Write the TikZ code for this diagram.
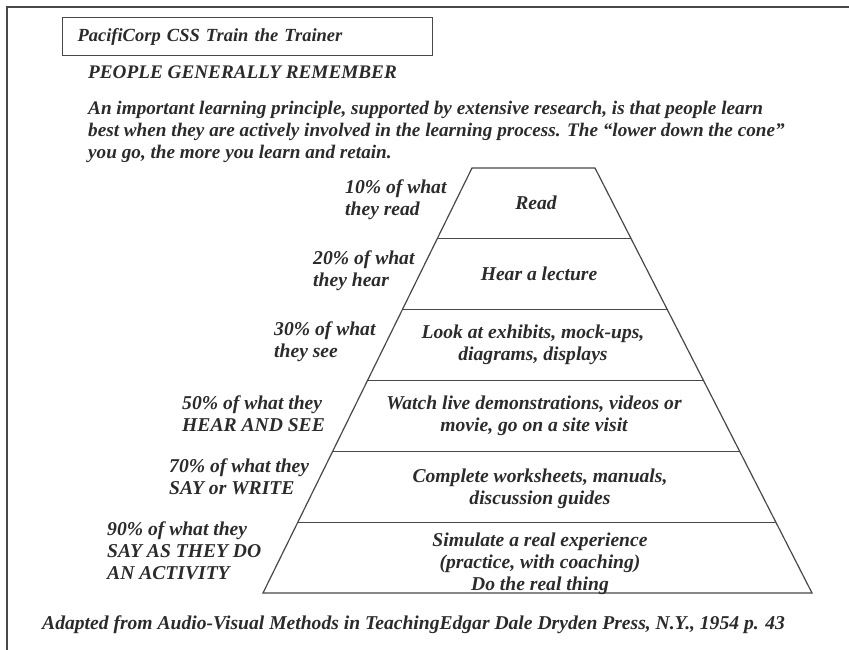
\documentclass[tikz,border=0pt]{standalone}
\usepackage{fontspec}
\setmainfont{Liberation Serif}
\usetikzlibrary{positioning,calc}
\definecolor{ink}{HTML}{2B2B2B}
\definecolor{rule}{HTML}{484848}

\begin{document}
\begin{tikzpicture}[
    x=1pt, y=-1pt,
    every node/.style={font=\bfseries\itshape\fontsize{19.6}{22}\selectfont, text=ink, inner sep=0pt},
    edge/.style={draw=rule, line width=1.2pt},
    titlebox/.style={draw=rule, line width=1pt, text width=340pt, inner xsep=15pt,
                     minimum height=38pt, align=left,
                     font=\bfseries\itshape\fontsize{18.5}{21}\selectfont},
    lbl/.style={anchor=west, align=left},
    rowtxt/.style={align=center},
  ]
  \useasboundingbox (0,0) rectangle (849,650);

  % page frame
  \draw[edge] (849,7) -- (7,7) -- (7,650);

  % header
  \node[titlebox, anchor=north west] (title) at (62,17) {PacifiCorp CSS Train the Trainer};
  \node[anchor=west, font=\bfseries\itshape\fontsize{19.2}{22}\selectfont] (head) at (88,72)
    {PEOPLE GENERALLY REMEMBER};
  \node[anchor=west, align=left, font=\bfseries\itshape\fontsize{19.2}{22}\selectfont] (intro) at (88,132)
    {An important learning principle, supported by extensive research, is that people learn\\
     best when they are actively involved in the learning process. The “lower down the cone”\\
     you go, the more you learn and retain.};

  % the cone
  \coordinate (tl) at (472,168);
  \coordinate (tr) at (595,168);
  \coordinate (bl) at (263,593);
  \coordinate (br) at (812,593);
  \draw[edge] (tl) -- (tr) -- (br) -- (bl) -- cycle;
  \foreach \k in {1,...,5}
    \draw[edge] ($(tl)!\k/6!(bl)$) -- ($(tr)!\k/6!(br)$);

  % what is done at each level
  \node[rowtxt] (read)  at (536,203) {Read};
  \node[rowtxt] (hear)  at (539,274) {Hear a lecture};
  \node[rowtxt] (see)   at (533,345) {Look at exhibits, mock-ups,\\diagrams, displays};
  \node[rowtxt] (watch) at (534,416) {Watch live demonstrations, videos or\\movie, go on a site visit};
  \node[rowtxt] (say)   at (540,489) {Complete worksheets, manuals,\\discussion guides};
  \node[rowtxt] (do)    at (540,564) {Simulate a real experience\\(practice, with coaching)\\Do the real thing};

  % how much is remembered
  \node[lbl] (p10) at (345,200) {10\% of what\\they read};
  \node[lbl] (p20) at (313,271) {20\% of what\\they hear};
  \node[lbl] (p30) at (274,342) {30\% of what\\they see};
  \node[lbl] (p50) at (182,414) {50\% of what they\\HEAR AND SEE};
  \node[lbl] (p70) at (169,477) {70\% of what they\\SAY or WRITE};
  \node[lbl] (p90) at (107,551) {90\% of what they\\SAY AS THEY DO\\AN ACTIVITY};

  % source
  \node[anchor=west] (src) at (42,625)
    {Adapted from Audio-Visual Methods in TeachingEdgar Dale Dryden Press, N.Y., 1954 p. 43};
\end{tikzpicture}
\end{document}
